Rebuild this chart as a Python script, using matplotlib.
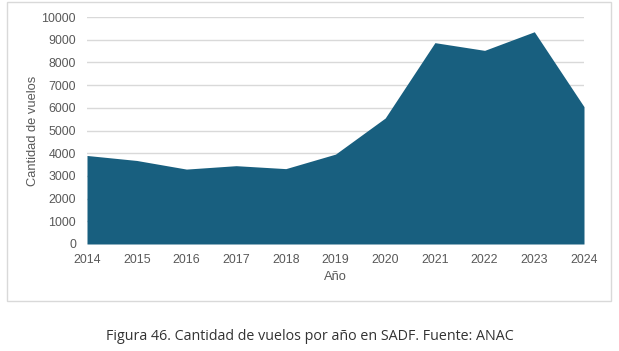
import matplotlib
matplotlib.use("Agg")
from matplotlib import pyplot as plt
from matplotlib.patches import Rectangle

# vuelos por año en SADF
years = [2014, 2015, 2016, 2017, 2018, 2019, 2020, 2021, 2022, 2023, 2024]
flights = [3900, 3680, 3300, 3450, 3320, 3960, 5550, 8870, 8530, 9350, 6050]
yticks = list(range(0, 10001, 1000))

plt.rcParams['font.family'] = ['Liberation Sans', 'DejaVu Sans']

W, H = 619, 351
fig = plt.figure(figsize=(W / 100, H / 100), dpi=100)

# marco gris del grafico
fig.patches.append(Rectangle((7 / W, 1 - 301 / H), 604 / W, 299 / H,
                             transform=fig.transFigure, fill=False,
                             edgecolor='#d9d9d9', linewidth=1))

ax = fig.add_axes([87 / W, 1 - 244 / H, (584 - 87) / W, (244 - 17) / H])
ax.fill_between(years, flights, 0, color='#185f7f', linewidth=0, zorder=2)

ax.set_xlim(years[0], years[-1])
ax.set_ylim(0, 10000)
ax.set_xticks(years)
ax.set_yticks(yticks)
ax.grid(axis='y', color='#d9d9d9', linewidth=1, zorder=0)
ax.tick_params(length=0, labelsize=8.9, labelcolor='#595959')
ax.tick_params(axis='y', pad=8)
ax.tick_params(axis='x', pad=7)
for s in ax.spines.values():
    s.set_visible(False)

ax.set_ylabel('Cantidad de vuelos', fontsize=9.3, color='#595959', labelpad=2)
ax.set_xlabel('Año', fontsize=9.3, color='#595959', labelpad=4)

fig.text(310 / W, 1 - 336 / H, 'Figura 46. Cantidad de vuelos por año en SADF. Fuente: ANAC',
         ha='center', va='center', fontsize=10.3, color='#333333',
         family=['Open Sans', 'DejaVu Sans'])

fig.savefig('out.png', dpi=100)
